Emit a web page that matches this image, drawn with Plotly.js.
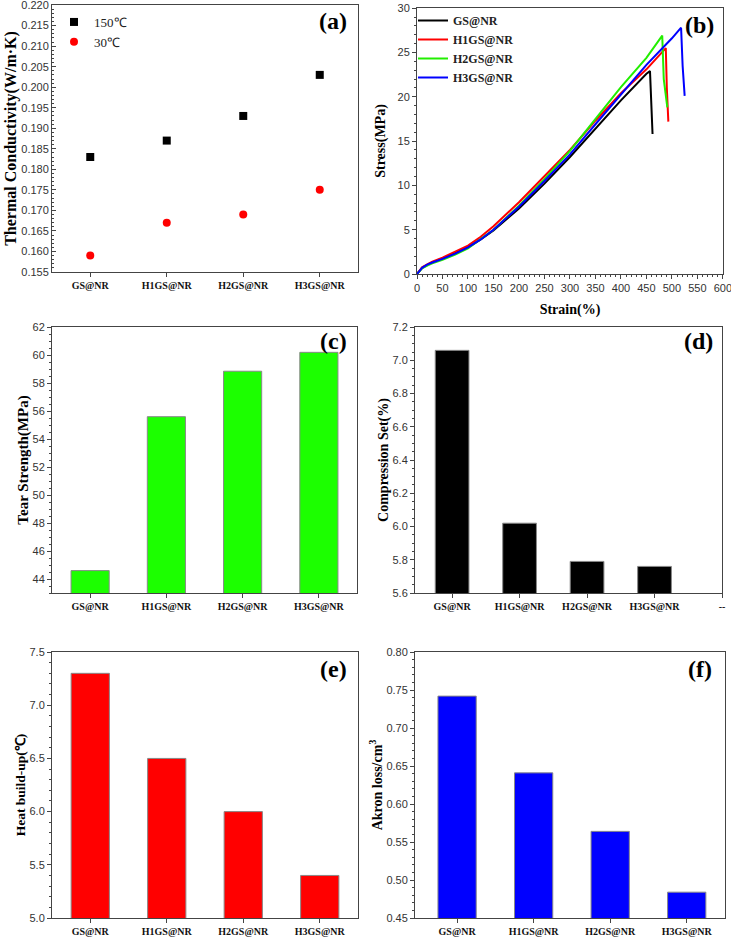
<!DOCTYPE html>
<html>
<head>
<meta charset="utf-8">
<script src="https://cdn.plot.ly/plotly-3.0.1.min.js"></script>
<style>html,body{margin:0;padding:0;background:#fff;}#chart{width:731px;height:938px;}</style>
</head>
<body>
<div id="chart"></div>
<script>
// ---------- data ----------
const categories = ['GS@NR', 'H1GS@NR', 'H2GS@NR', 'H3GS@NR'];
const categoriesD = ['GS@NR', 'H1GS@NR', 'H2GS@NR', 'H3GS@NR', '--'];
const tc150 = [0.183, 0.187, 0.193, 0.203];
const tc30 = [0.159, 0.167, 0.169, 0.175];
const tearStrength = [44.6, 55.6, 58.85, 60.2];
const compressionSet = [7.06, 6.02, 5.79, 5.76];
const heatBuildUp = [7.3, 6.5, 6.0, 5.4];
const akronLoss = [0.742, 0.641, 0.564, 0.484];

const strainGS = [0, 5, 10, 20, 30, 50, 75, 100, 125, 150, 200, 250, 300, 350, 400, 450, 457, 462];
const stressGS = [0, 0.4, 0.7, 1.0, 1.3, 1.75, 2.35, 3.0, 3.9, 4.9, 7.4, 10.2, 13.2, 16.4, 19.6, 22.6, 22.9, 15.8];
const strainH1 = [0, 5, 10, 20, 30, 50, 75, 100, 125, 150, 200, 250, 300, 350, 400, 450, 488, 490, 493];
const stressH1 = [0, 0.45, 0.75, 1.1, 1.4, 1.85, 2.5, 3.2, 4.2, 5.4, 8.1, 11.0, 14.0, 17.3, 20.4, 23.1, 25.5, 21.0, 17.2];
const strainH2 = [0, 5, 10, 20, 30, 50, 75, 100, 125, 150, 200, 250, 300, 350, 400, 450, 481, 484, 491];
const stressH2 = [0, 0.35, 0.65, 0.95, 1.2, 1.6, 2.2, 2.9, 3.9, 5.0, 7.7, 10.7, 13.9, 17.5, 21.1, 24.4, 26.9, 22.0, 18.8];
const strainH3 = [0, 5, 10, 20, 30, 50, 75, 100, 125, 150, 200, 250, 300, 350, 400, 450, 500, 518, 521, 525];
const stressH3 = [0, 0.4, 0.7, 1.05, 1.3, 1.7, 2.3, 3.0, 3.9, 5.0, 7.6, 10.5, 13.5, 16.9, 20.3, 23.6, 26.6, 27.8, 23.5, 20.1];

// ---------- layout helpers ----------
const W = 731, H = 938;
const dx = (a, b) => [a / W, b / W];
const dy = (top, bottom) => [1 - bottom / H, 1 - top / H];

const tickFont = {family: 'Liberation Sans, Arial, sans-serif', size: 11, color: '#333'};
const catFont = {family: 'Liberation Serif, Times New Roman, serif', size: 10, color: '#111', weight: 'bold'};
const serif = 'Liberation Serif, Times New Roman, serif';
const tFont = (size) => ({family: serif, size: size, color: '#000', weight: 'bold'});
const lineCol = '#444';

function catAxis(domain, anchor, cats, range) {
  return {domain: domain, anchor: anchor, type: 'category', categoryorder: 'array', categoryarray: cats,
    range: range, showline: true, mirror: true, linecolor: lineCol, linewidth: 1, showgrid: false, zeroline: false,
    ticks: 'outside', ticklen: 4, tickcolor: lineCol, tickfont: catFont, fixedrange: true};
}
function numAxis(domain, anchor, range, dtick, fmt, title, tsize, standoff, tickdir, tick0) {
  const ax = {domain: domain, anchor: anchor, range: range, dtick: dtick, tickformat: fmt,
    showline: true, mirror: true, linecolor: lineCol, linewidth: 1, showgrid: false, zeroline: false,
    ticks: tickdir, ticklen: 4, tickcolor: lineCol, tickfont: tickFont, fixedrange: true,
    ticklabeloverflow: 'allow',
    minor: {ticks: tickdir, ticklen: 2, tickcolor: lineCol, showgrid: false}};
  if (tick0 !== undefined) ax.tick0 = tick0;
  if (title) ax.title = {text: title, font: tFont(tsize), standoff: standoff};
  return ax;
}

const barLine = {color: '#888', width: 1};

const traces = [
  // (a)
  {type: 'scatter', mode: 'markers', x: categories, y: tc150, name: '150℃', xaxis: 'x', yaxis: 'y',
    marker: {symbol: 'square', size: 8, color: '#000'}, legend: 'legend'},
  {type: 'scatter', mode: 'markers', x: categories, y: tc30, name: '30℃', xaxis: 'x', yaxis: 'y',
    marker: {symbol: 'circle', size: 8, color: '#ff0000'}, legend: 'legend'},
  // (b)
  {type: 'scatter', mode: 'lines', x: strainGS, y: stressGS, name: 'GS@NR', xaxis: 'x2', yaxis: 'y2',
    line: {color: '#000', width: 2}, legend: 'legend2'},
  {type: 'scatter', mode: 'lines', x: strainH1, y: stressH1, name: 'H1GS@NR', xaxis: 'x2', yaxis: 'y2',
    line: {color: '#ff0000', width: 2}, legend: 'legend2'},
  {type: 'scatter', mode: 'lines', x: strainH2, y: stressH2, name: 'H2GS@NR', xaxis: 'x2', yaxis: 'y2',
    line: {color: '#22ee00', width: 2}, legend: 'legend2'},
  {type: 'scatter', mode: 'lines', x: strainH3, y: stressH3, name: 'H3GS@NR', xaxis: 'x2', yaxis: 'y2',
    line: {color: '#0000ff', width: 2}, legend: 'legend2'},
  // (c)
  {type: 'bar', x: categories, y: tearStrength, xaxis: 'x3', yaxis: 'y3', width: 0.5, showlegend: false,
    marker: {color: '#1cff00', line: barLine}},
  // (d)
  {type: 'bar', x: categories, y: compressionSet, xaxis: 'x4', yaxis: 'y4', width: 0.5, showlegend: false,
    marker: {color: '#000', line: barLine}},
  // (e)
  {type: 'bar', x: categories, y: heatBuildUp, xaxis: 'x5', yaxis: 'y5', width: 0.5, showlegend: false,
    marker: {color: '#ff0000', line: barLine}},
  // (f)
  {type: 'bar', x: categories, y: akronLoss, xaxis: 'x6', yaxis: 'y6', width: 0.5, showlegend: false,
    marker: {color: '#0000ff', line: barLine}}
];

const panelFont = {family: serif, size: 24, color: '#000', weight: 'bold'};
function panelLabel(text, xpx, ypx) {
  return {text: text, xref: 'paper', yref: 'paper', x: xpx / W, y: 1 - ypx / H, xanchor: 'center', yanchor: 'middle',
    showarrow: false, font: panelFont};
}

const layout = {
  width: W, height: H, margin: {l: 0, r: 0, t: 0, b: 0}, paper_bgcolor: '#fff', plot_bgcolor: '#fff',
  showlegend: true,
  xaxis: catAxis(dx(52, 358), 'y', categories, [-0.5, 3.5]),
  yaxis: numAxis(dy(5, 272), 'x', [0.155, 0.22002], 0.005, '.3f', 'Thermal Conductivity(W/m·K)', 16, 0, 'inside'),
  xaxis2: numAxis(dx(417, 723), 'y2', [0, 600.2], 50, 'd', 'Strain(%)', 14, 10, 'outside'),
  yaxis2: numAxis(dy(8, 274), 'x2', [0, 30.02], 5, 'd', 'Stress(MPa)', 14, 8, 'outside'),
  xaxis3: catAxis(dx(52, 357), 'y3', categories, [-0.5, 3.5]),
  yaxis3: numAxis(dy(327, 593), 'x3', [43, 62.01], 2, 'd', 'Tear Strength(MPa)', 15, 0, 'outside', 44),
  xaxis4: catAxis(dx(415, 722), 'y4', categoriesD, [-0.55, 4]),
  yaxis4: numAxis(dy(327, 593), 'x4', [5.6, 7.2005], 0.2, '.1f', 'Compression Set(%)', 14, 0, 'outside'),
  xaxis5: catAxis(dx(52, 358), 'y5', categories, [-0.5, 3.5]),
  yaxis5: numAxis(dy(652, 918), 'x5', [5.0, 7.5005], 0.5, '.1f', 'Heat build-up(℃)', 13.5, 0, 'outside'),
  xaxis6: catAxis(dx(415, 725), 'y6', categories, [-0.55, 3.5]),
  yaxis6: numAxis(dy(652, 918), 'x6', [0.45, 0.80005], 0.05, '.2f', 'Akron loss/cm<sup>3</sup>', 14, 0, 'outside'),
  legend: {x: 54 / W, y: 1 - 7 / H, xanchor: 'left', yanchor: 'top', bgcolor: 'rgba(0,0,0,0)',
    font: {family: serif, size: 13, color: '#222'}, tracegroupgap: 0},
  legend2: {x: 413 / W, y: 1 - 6 / H, xanchor: 'left', yanchor: 'top', bgcolor: 'rgba(0,0,0,0)',
    font: {family: serif, size: 12, color: '#222', weight: 'bold'}, tracegroupgap: 0},
  annotations: [
    panelLabel('(a)', 333, 21),
    panelLabel('(b)', 699, 25),
    panelLabel('(c)', 333, 341),
    panelLabel('(d)', 698, 341),
    panelLabel('(e)', 333, 669),
    panelLabel('(f)', 700, 669)
  ]
};

Plotly.newPlot('chart', traces, layout, {staticPlot: true, displayModeBar: false});
</script>
</body>
</html>
